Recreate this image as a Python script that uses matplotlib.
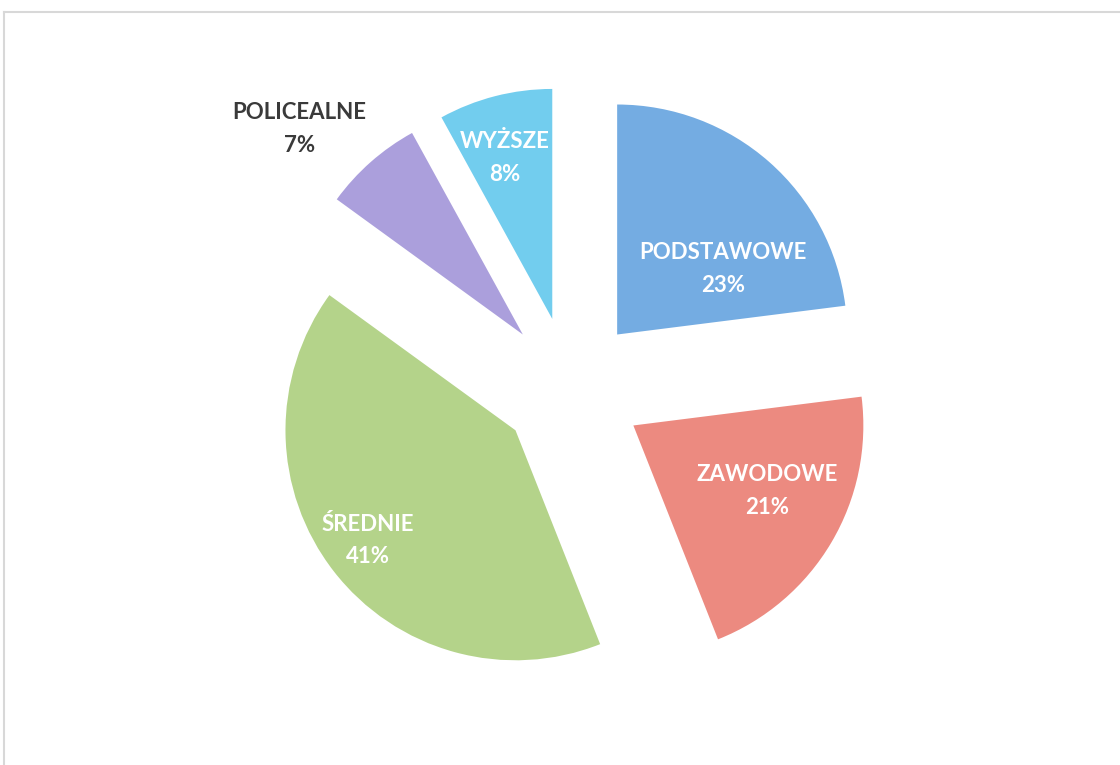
import numpy as np
import matplotlib.pyplot as plt
from matplotlib.lines import Line2D

# dane
categories = ['PODSTAWOWE', 'ZAWODOWE', 'ŚREDNIE', 'POLICEALNE', 'WYŻSZE']
shares = [23, 21, 41, 7, 8]
colors = ['#74ace2', '#ec8a80', '#b4d38a', '#ab9fdc', '#72cdee']
explode = [0.31, 0.32, 0.30, 0.31, 0.31]

# label layout (distance from slice tip in radii, angle shift clockwise in deg)
label_dist = [0.54, 0.65, 0.80, 1.32, 0.73]
label_shift = [17, -4.5, 1, -6, -2]
label_color = ['white', 'white', 'white', '#3a3a3a', 'white']

plt.rcParams['font.family'] = ['Lato', 'DejaVu Sans']

fig = plt.figure(figsize=(11.2, 7.65), dpi=100)
ax = fig.add_axes([0, 0, 1, 1])

R = 230.0  # radius in px
cx, cy = 570.0, 765 - 388.0

wedges, _ = ax.pie(shares, explode=explode, colors=colors, startangle=90,
                   counterclock=False, radius=1, center=(0, 0),
                   wedgeprops=dict(linewidth=0))

ax.set_xlim(-cx / R, (1120 - cx) / R)
ax.set_ylim(-cy / R, (765 - cy) / R)
ax.set_aspect('auto')
ax.axis('off')

for w, name, val, d, sh, c in zip(wedges, categories, shares, label_dist,
                                   label_shift, label_color):
    mid = (w.theta1 + w.theta2) / 2 - sh
    tx = w.center[0] + d * np.cos(np.radians(mid))
    ty = w.center[1] + d * np.sin(np.radians(mid))
    ax.text(tx, ty, f'{name}\n{val}%', ha='center', va='center',
            color=c, fontsize=16, fontweight='bold', linespacing=1.7)

# ramka skanu
fig.add_artist(Line2D([0.004, 1], [1 - 12 / 765, 1 - 12 / 765],
                      color='#d8d8d8', lw=1.5))
fig.add_artist(Line2D([0.004, 0.004], [0, 1 - 12 / 765],
                      color='#d8d8d8', lw=1.5))

plt.savefig('out.png', dpi=100)
